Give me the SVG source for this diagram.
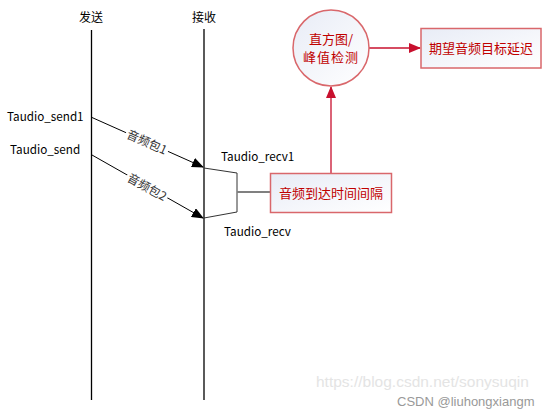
<svg xmlns="http://www.w3.org/2000/svg" width="551" height="418" viewBox="0 0 551 418">
<style>
text{font-family:"Microsoft YaHei","Noto Sans CJK SC","Liberation Sans",sans-serif;}
.lbl{font-size:12px;fill:#000;}
.tl{font-size:11.7px;fill:#000;}
.red{font-size:13px;fill:#C00000;}
.life{stroke:#000;stroke-width:1.3;fill:none;}
.msg{stroke:#000;stroke-width:1;fill:none;}
.rbox{fill:url(#g);stroke:#D9676B;stroke-width:1.5;}
.rline{stroke:#C8102E;stroke-width:1.3;fill:none;}
.wm{font-family:"Liberation Sans",Arial,sans-serif;}
</style>
<defs>
<linearGradient id="g" x1="0" y1="0" x2="1" y2="1">
<stop offset="0" stop-color="#E8ECF6"/>
<stop offset="1" stop-color="#FFFFFF"/>
</linearGradient>
<marker id="ab" markerWidth="12" markerHeight="10" refX="11" refY="5" orient="auto" markerUnits="userSpaceOnUse">
<path d="M0,0 L12,5 L0,10 Z" fill="#000"/>
</marker>
<marker id="ar" markerWidth="12" markerHeight="10" refX="11" refY="5" orient="auto" markerUnits="userSpaceOnUse">
<path d="M0,0 L12,5 L0,10 Z" fill="#C8102E"/>
</marker>
</defs>
<rect width="551" height="418" fill="#fff"/>
<g id="sender">
<text class="lbl" x="91" y="22" text-anchor="middle">发送</text>
<line class="life" x1="91.5" y1="30" x2="91.5" y2="400"/>
</g>
<g id="receiver">
<text class="lbl" x="204" y="22" text-anchor="middle">接收</text>
<line class="life" x1="204" y1="29" x2="204" y2="400"/>
</g>
<g id="labels">
<text class="tl" x="7" y="121">Taudio_send1</text>
<text class="tl" x="10" y="154">Taudio_send</text>
<text class="tl" x="221" y="161">Taudio_recv1</text>
<text class="tl" x="224" y="236">Taudio_recv</text>
</g>
<g id="connectors">
<line class="msg" x1="92" y1="117.5" x2="203" y2="167" marker-end="url(#ab)"/>
<line class="msg" x1="92" y1="155" x2="203" y2="218" marker-end="url(#ab)"/>
<path d="M204,168 L237,173 L237,212 L204,218" fill="none" stroke="#333" stroke-width="1"/>
<line x1="237" y1="192" x2="271" y2="192" stroke="#808080" stroke-width="2"/>
<line class="rline" x1="331" y1="173" x2="331" y2="87" marker-end="url(#ar)"/>
<line class="rline" x1="369" y1="48" x2="420" y2="48" marker-end="url(#ar)"/>
</g>
<g id="pkt1" transform="translate(147,142) rotate(24)">
<rect x="-23" y="-8" width="46" height="16" fill="#fff"/>
<text class="lbl" x="0" y="4.5" text-anchor="middle" fill="#333" style="fill:#333">音频包1</text>
</g>
<g id="pkt2" transform="translate(147,187) rotate(29)">
<rect x="-23" y="-8" width="46" height="16" fill="#fff"/>
<text class="lbl" x="0" y="4.5" text-anchor="middle" style="fill:#333">音频包2</text>
</g>
<g id="interval">
<rect class="rbox" x="270.5" y="173.5" width="121" height="39"/>
<text class="red" x="331" y="197.5" text-anchor="middle">音频到达时间间隔</text>
</g>
<g id="histogram">
<circle cx="331" cy="48" r="38" class="rbox"/>
<text class="red" x="331" y="44" text-anchor="middle">直方图/</text>
<text class="red" x="331" y="62" text-anchor="middle" letter-spacing="1">峰值检测</text>
</g>
<g id="target">
<rect class="rbox" x="421" y="28.5" width="120" height="39.5"/>
<text class="red" x="481" y="53" text-anchor="middle">期望音频目标延迟</text>
</g>
<g id="watermark">
<text class="wm" x="316" y="387" font-size="15.5" fill="#E4E4E4">https://blog.csdn.net/sonysuqin</text>
<text class="wm" x="397" y="406" font-size="13" fill="#999">CSDN @liuhongxiangm</text>
</g>
</svg>
